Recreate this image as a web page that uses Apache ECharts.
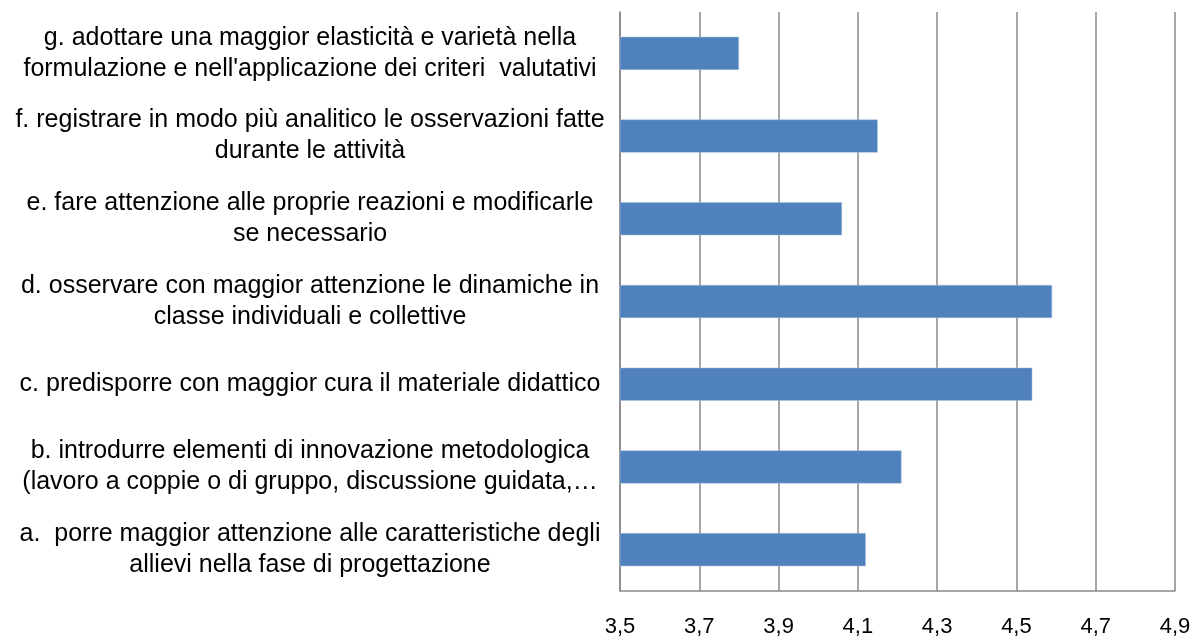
<!DOCTYPE html>
<html>
<head>
<meta charset="utf-8">
<script src="https://cdn.jsdelivr.net/npm/echarts@6/dist/echarts.min.js"></script>
<style>
  html, body { margin: 0; padding: 0; background: #fff; }
  #chart { width: 1199px; height: 639px; }
</style>
</head>
<body>
<div id="chart"></div>
<script>
  // categorie dal basso verso l'alto (a -> g)
  var categories = [
    'a.  porre maggior attenzione alle caratteristiche degli\nallievi nella fase di progettazione',
    'b. introdurre elementi di innovazione metodologica\n(lavoro a coppie o di gruppo, discussione guidata,…',
    'c. predisporre con maggior cura il materiale didattico',
    'd. osservare con maggior attenzione le dinamiche in\nclasse individuali e collettive',
    'e. fare attenzione alle proprie reazioni e modificarle\nse necessario',
    'f. registrare in modo più analitico le osservazioni fatte\ndurante le attività',
    'g. adottare una maggior elasticità e varietà nella\nformulazione e nell\'applicazione dei criteri  valutativi'
  ]
  var values = [4.12, 4.21, 4.54, 4.59, 4.06, 4.15, 3.80]
  var axisMin = 3.5
  var axisMax = 4.9
  var axisStep = 0.2

  var chart = echarts.init(document.getElementById('chart'))
  var option = {
    animation: false,
    grid: {
      left: 620,
      right: 24,
      top: 12,
      bottom: 48,
      containLabel: false
    },
    xAxis: {
      type: 'value',
      min: axisMin,
      max: axisMax,
      interval: axisStep,
      axisLine: { show: true, lineStyle: { color: '#898989', width: 1.5 } },
      axisTick: { show: false },
      splitLine: { show: true, lineStyle: { color: '#898989', width: 1.5 } },
      axisLabel: {
        margin: 25,
        fontFamily: 'Liberation Sans',
        fontSize: 22,
        color: '#000',
        formatter: function (v) { return v.toFixed(1).replace('.', ',') }
      }
    },
    yAxis: {
      type: 'category',
      data: categories,
      axisLine: { show: true, lineStyle: { color: '#898989', width: 1.5 } },
      axisTick: { show: false },
      axisLabel: {
        margin: 310,
        align: 'center',
        fontFamily: 'Liberation Sans',
        fontSize: 25,
        lineHeight: 31,
        color: '#000'
      }
    },
    series: [{
      type: 'bar',
      data: values,
      barWidth: '40%',
      itemStyle: { color: '#4f81bd', borderColor: '#a9c1de', borderWidth: 0.5 }
    }]
  }
  chart.setOption(option)
  window.addEventListener('resize', function () { chart.resize() })
</script>
</body>
</html>
